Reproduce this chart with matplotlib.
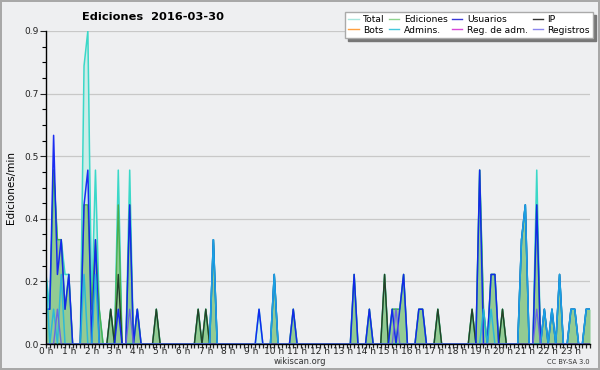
import matplotlib
matplotlib.use('Agg')
import matplotlib.pyplot as plt
import numpy as np
from matplotlib.ticker import MultipleLocator

# edits per 10-minute slot (0 = 00:00, 143 = 23:50), only non-zero slots
total_bins = [0, 1, 2, 3, 4, 5, 6, 10, 11, 12, 13, 14, 17, 19, 22, 24, 29, 40, 42, 44, 56, 60, 65,
              81, 85, 89, 91, 92, 93, 94, 98, 99, 103, 112, 114, 115, 117, 118, 120,
              125, 126, 129, 131, 133, 135, 138, 139, 142, 143]
total_cnt = [2, 1, 5, 3, 3, 2, 2, 8, 9, 1, 5, 1, 1, 5, 5, 1, 1, 1, 1, 3, 1, 2, 1,
             2, 1, 2, 1, 1, 1, 2, 1, 1, 1, 1, 5, 1, 2, 2, 1,
             3, 4, 5, 1, 1, 2, 1, 1, 1, 1]

edit_bins = [0, 1, 2, 3, 4, 5, 6, 10, 11, 12, 13, 14, 17, 19, 22, 24, 29, 40, 42, 44, 60, 65,
             81, 85, 89, 91, 92, 93, 94, 98, 99, 103, 112, 114, 115, 117, 118, 120,
             125, 126, 129, 131, 133, 135, 138, 139, 142, 143]
edit_cnt = [1, 1, 5, 3, 3, 1, 2, 4, 4, 1, 3, 1, 1, 4, 4, 1, 1, 1, 1, 3, 2, 1,
            2, 1, 2, 1, 1, 1, 2, 1, 1, 1, 1, 5, 1, 2, 2, 1,
            3, 4, 4, 1, 1, 2, 1, 1, 1, 1]

user_bins = [0, 1, 2, 3, 4, 5, 6, 10, 11, 13, 19, 22, 24, 44, 56, 60, 65,
             81, 85, 91, 93, 94, 98, 99, 114, 117, 118,
             125, 126, 129, 131, 133, 135, 138, 139, 142, 143]
user_cnt = [1, 1, 6, 2, 3, 1, 2, 4, 5, 3, 1, 4, 1, 3, 1, 2, 1,
            2, 1, 1, 1, 2, 1, 1, 5, 2, 2,
            3, 4, 4, 1, 1, 2, 1, 1, 1, 1]

ip_bins = [17, 19, 29, 40, 42, 89, 103, 112, 120]
ip_cnt = [1, 2, 1, 1, 1, 2, 1, 1, 1]

admin_bins = [0, 2, 4, 10, 13, 44, 60, 115, 117, 125, 126, 131, 133, 135, 138, 139, 142, 143]
admin_cnt = [2, 1, 2, 2, 2, 3, 2, 1, 1, 3, 4, 1, 1, 2, 1, 1, 1, 1]

reg_bins = [3, 22, 92, 129]
reg_cnt = [1, 1, 1, 1]

hours = [f'{h} h' for h in range(24)]
legend_names = ['Total', 'Ediciones', 'Usuarios', 'IP', 'Bots', 'Admins.', 'Reg. de adm.', 'Registros']


def per_min(bins, cnt):
    s = np.zeros(144)
    s[bins] = np.array(cnt) / 10.0
    return s


x = np.arange(144)
total = per_min(total_bins, total_cnt)
edits = per_min(edit_bins, edit_cnt)
users = per_min(user_bins, user_cnt)
ip = per_min(ip_bins, ip_cnt)
admins = per_min(admin_bins, admin_cnt)
regs = per_min(reg_bins, reg_cnt)

bg = '#eeeff1'
fig = plt.figure(figsize=(6, 3.7), dpi=100, facecolor=bg, edgecolor='#a8a8a8', linewidth=1.5)
ax = fig.add_axes([46/600, 1-344/370, 544/600, 313/370])
ax.set_facecolor(bg)

ax.fill_between(x, total, color='#c9ede7', alpha=0.9, lw=0)
ax.fill_between(x, edits, color='#93cb93', lw=0)
ax.plot(x, total, color='#3ad8c8', lw=1.1)
ax.plot(x, edits, color='#4cae4c', lw=1.0)
ax.plot(x, ip, color='#24402a', lw=1.0)
ax.plot(x, users, color='#0f22f2', lw=1.1, alpha=0.95)
ax.plot(x, admins, color='#1cb6e2', lw=1.1, alpha=0.85)
ax.plot(x, regs, color='#6a5ee6', lw=1.0, alpha=0.9)

ax.set_xlim(0, 143)
ax.set_ylim(0, 0.9)
yt = np.linspace(0, 0.9, 6)
ax.set_yticks(yt)
ax.set_yticklabels([f'{v:.1f}' for v in yt])
ax.yaxis.set_minor_locator(MultipleLocator(0.045))
ax.set_xticks(np.arange(24) * 6)
ax.set_xticklabels(hours)
ax.xaxis.set_minor_locator(MultipleLocator(1))
ax.grid(axis='y', color='#c8c8c8', lw=0.9)
ax.set_axisbelow(True)

for s in ['top', 'right']:
    ax.spines[s].set_visible(False)
for s in ['left', 'bottom']:
    ax.spines[s].set_color('black')
    ax.spines[s].set_linewidth(1.0)
ax.tick_params(axis='y', which='major', length=4, width=0.8, labelsize=6.5, pad=1, colors='#222222')
ax.tick_params(axis='y', which='minor', length=3, width=0.8)
ax.tick_params(axis='x', which='both', length=3, width=0.9, labelsize=6.5, pad=-1, colors='#222222')

ax.set_ylabel('Ediciones/min', fontsize=7.5, labelpad=6)
fig.text(153/600, 1-17/370, 'Ediciones  2016-03-30', fontsize=8.2, fontweight='bold',
         ha='center', va='center')
fig.text(300/600, 1-362/370, 'wikiscan.org', fontsize=6, ha='center', va='center', color='#333333')
fig.text(590/600, 1-362/370, 'CC BY-SA 3.0', fontsize=4.8, ha='right', va='center', color='#333333')

colors = ['#a8e6de', '#8fd48f', '#3838d8', '#333333', '#ffa040', '#44c8dc', '#d848d8', '#8a86ee']
handles = [plt.Line2D([], [], color=c, lw=1) for c in colors]
order = [0, 4, 1, 5, 2, 6, 3, 7]
fig.legend([handles[i] for i in order], [legend_names[i] for i in order], ncol=4,
           loc='upper right', bbox_to_anchor=(593/600, 1-12/370), borderaxespad=0, fontsize=6.6,
           handlelength=1.1, handletextpad=0.5, columnspacing=0.5, labelspacing=0.15,
           borderpad=0.35, fancybox=False, framealpha=1, edgecolor='#aaaaaa',
           shadow={'color': '#777777', 'alpha': 1})

fig.savefig('out.png', dpi=100, facecolor=bg, edgecolor=fig.get_edgecolor())
